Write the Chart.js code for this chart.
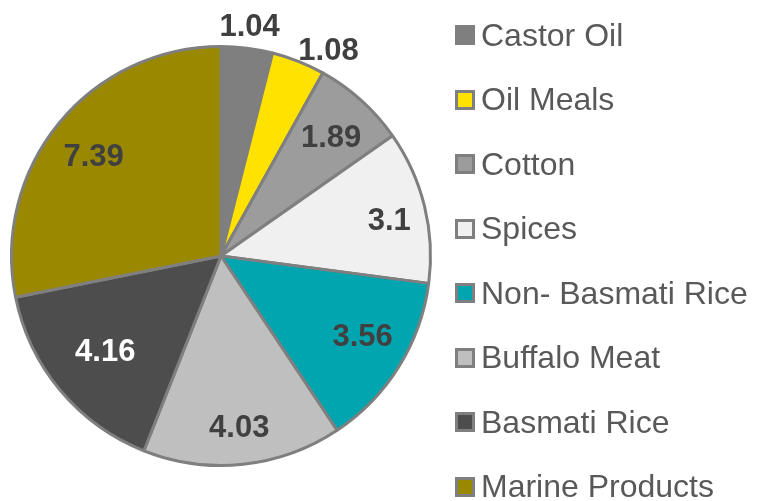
<!DOCTYPE html>
<html>
<head>
<meta charset="utf-8">
<script src="https://cdn.jsdelivr.net/npm/chart.js@4"></script>
<style>
  body { margin: 0; background: #fff; }
  #wrap { position: relative; width: 760px; height: 501px; }
  #legend { position: absolute; left: 455px; top: 3px; font-family: "Liberation Sans", Arial, sans-serif; font-size: 32px; color: #595959; }
  .item { height: 64.5px; display: flex; align-items: center; white-space: nowrap; }
  .box { width: 14px; height: 14px; border: 3px solid #7f7f7f; margin-right: 6px; }
</style>
</head>
<body>
<div id="wrap">
  <canvas id="myChart" width="760" height="501"></canvas>
  <div id="legend"></div>
</div>
<script>
const products = ['Castor Oil', 'Oil Meals', 'Cotton', 'Spices', 'Non- Basmati Rice', 'Buffalo Meat', 'Basmati Rice', 'Marine Products'];
const values = [1.04, 1.08, 1.89, 3.1, 3.56, 4.03, 4.16, 7.39];
const colors = ['#7f7f7f', '#ffe200', '#9c9c9c', '#f0f0f0', '#00a5af', '#bfbfbf', '#4d4d4d', '#998800'];

// label placement: fraction of radius, and angle nudge in degrees
const labelRadius = [1.1, 1.105, 0.77, 0.82, 0.78, 0.83, 0.72, 0.77];
const labelNudge = [0, 6, 1, 2, -2, 0, 0, -1.5];
const labelColors = ['#404040', '#404040', '#404040', '#404040', '#404040', '#404040', '#ffffff', '#404040'];

const pieLabels = {
    id: 'pieLabels',
    afterDatasetsDraw(chart) {
        const ctx = chart.ctx;
        const meta = chart.getDatasetMeta(0);
        ctx.save();
        ctx.font = 'bold 31px "Liberation Sans", Arial, sans-serif';
        ctx.textAlign = 'center';
        ctx.textBaseline = 'middle';
        meta.data.forEach((arc, i) => {
            const mid = (arc.startAngle + arc.endAngle) / 2 + labelNudge[i] * Math.PI / 180;
            const r = arc.outerRadius * labelRadius[i];
            ctx.fillStyle = labelColors[i];
            ctx.fillText(values[i], arc.x + Math.cos(mid) * r, arc.y + Math.sin(mid) * r);
        });
        ctx.restore();
    }
};

const chart = new Chart(document.getElementById('myChart'), {
    type: 'pie',
    data: {
        labels: products,
        datasets: [{
            data: values,
            backgroundColor: colors,
            borderColor: '#7f7f7f',
            borderWidth: 3
        }]
    },
    options: {
        responsive: false,
        animation: false,
        layout: { padding: { left: 10, right: 328, top: 45, bottom: 34 } },
        plugins: {
            legend: { display: false },
            tooltip: { enabled: false }
        }
    },
    plugins: [pieLabels]
});

// html legend built from the chart data
const legend = document.getElementById('legend');
products.forEach((name, i) => {
    const item = document.createElement('div');
    item.className = 'item';
    const box = document.createElement('span');
    box.className = 'box';
    box.style.background = colors[i];
    item.appendChild(box);
    item.appendChild(document.createTextNode(name));
    legend.appendChild(item);
});
</script>
</body>
</html>
